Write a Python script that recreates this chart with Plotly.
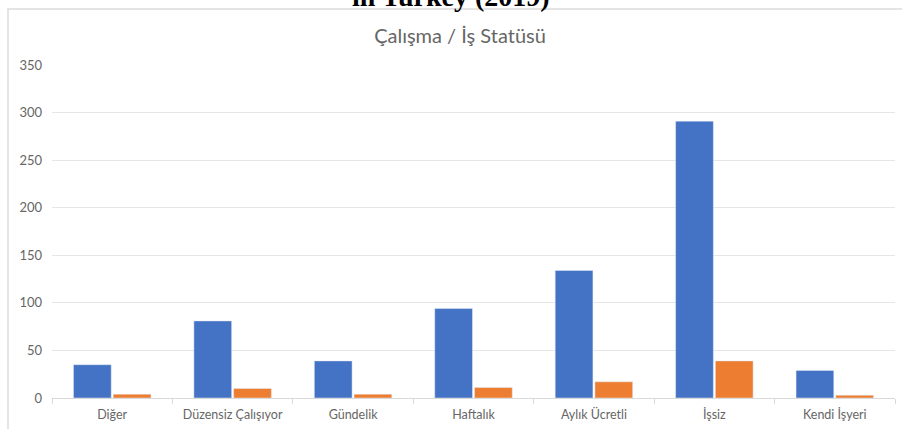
import plotly.graph_objects as go

categories = ["Diğer", "Düzensiz Çalışıyor", "Gündelik", "Haftalık", "Aylık Ücretli", "İşsiz", "Kendi İşyeri"]
series_blue = [35, 81, 39, 94, 134, 291, 29]
series_orange = [4, 10, 4, 11, 17, 39, 3]
y_ticks = [0, 50, 100, 150, 200, 250, 300, 350]

W, H = 902, 429
L, R, T, B = 52, 7, 65, 31
PW, PH = W - L - R, H - T - B

def px_x(p):
    return (p - L) / PW

def px_y(p):
    return 1 + (T - p) / PH

fig = go.Figure()
fig.add_trace(go.Bar(x=categories, y=series_blue, marker_color="#4472C4", showlegend=False))
fig.add_trace(go.Bar(x=categories, y=series_orange, marker_color="#ED7D31", showlegend=False))

fig.update_layout(
    width=W, height=H,
    margin=dict(l=L, r=R, t=T, b=B),
    paper_bgcolor="white", plot_bgcolor="white",
    barmode="group", bargap=0.34, bargroupgap=0.05,
    font=dict(family="Lato", size=12, color="#666666"),
    title=dict(text="Çalışma / İş Statüsü", x=460 / W, xanchor="center",
               y=1 - 36 / H, yanchor="middle", yref="container",
               font=dict(family="Lato", size=20, color="#666666")),
    xaxis=dict(showgrid=False, showline=True, linecolor="#d9d9d9", linewidth=1,
               ticks="outside", tickson="boundaries", ticklen=5, tickcolor="#d9d9d9",
               ticklabelstandoff=5,
               tickfont=dict(size=12.5, color="#666666")),
    yaxis=dict(range=[0, 350], tickvals=y_ticks, showgrid=True, gridcolor="#e6e6e6",
               gridwidth=1, zeroline=False, showline=False, ticks="",
               ticklabelstandoff=9, tickfont=dict(size=13, color="#666666")),
)

# chart frame (Excel-style border, partially out of view)
fig.add_shape(type="rect", xref="paper", yref="paper",
              x0=px_x(8), x1=px_x(W + 20), y0=px_y(H + 20), y1=px_y(9),
              line=dict(color="#dcdcdc", width=1.5), fillcolor="rgba(0,0,0,0)", layer="below")

# clipped caption text from the page above the chart
fig.add_annotation(text="<b>in Turkey (2019)</b>", xref="paper", yref="paper",
                   x=px_x(451), y=px_y(14), xanchor="center", yanchor="bottom",
                   showarrow=False,
                   font=dict(family="Liberation Serif", size=28, color="black"))

fig.write_html("out.html")
